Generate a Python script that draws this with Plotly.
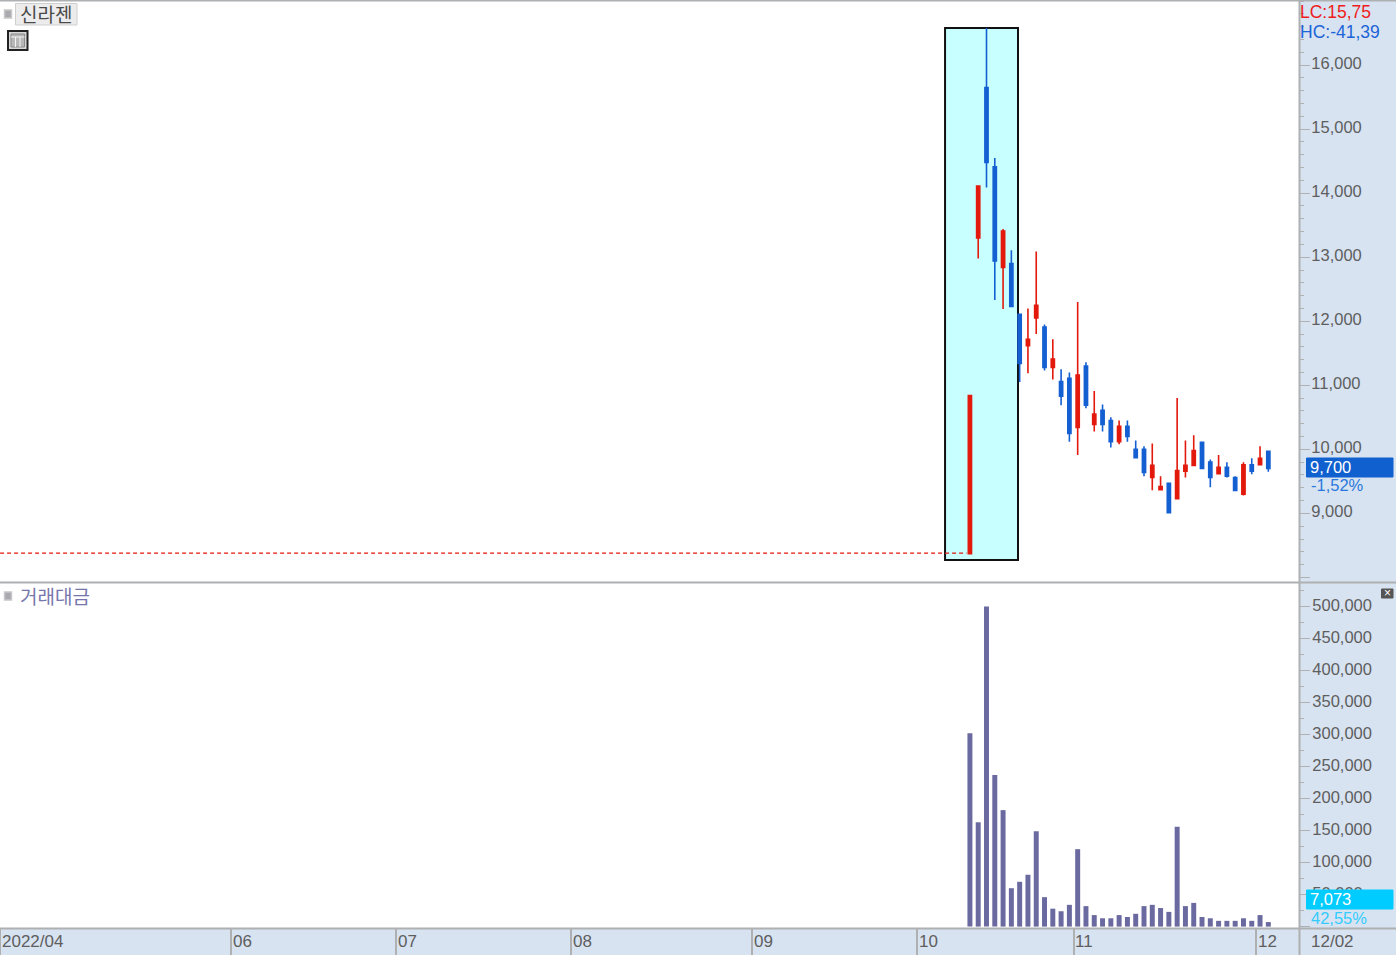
import plotly.graph_objects as go

W, H = 1396, 955
bar_index = list(range(117, 154))
opens = [8370,13300,15650,14410,12840,12900,12110,11620,12050,11910,11280,11060,11110,10340,11300,10390,10610,10450,10120,10360,10000,10000,9560,9370,9470,9230,9660,9750,10110,9800,9620,9720,9560,9300,9760,9760,9970]
highs = [10840,14110,16580,14550,13440,13110,12110,12200,13090,11950,11720,11250,11200,12300,11360,10910,10700,10500,10450,10450,10140,10050,10090,9580,9480,10800,10140,10220,10110,9840,9910,9800,9580,9800,9860,10050,9970]
lows = [8380,12980,14090,12330,12190,12230,11050,11190,11800,11230,11090,10690,10120,9910,10640,10280,10280,10030,10080,10120,9870,9580,9360,9360,9000,9230,9560,9750,9700,9410,9610,9560,9360,9280,9610,9750,9650]
closes = [10840,14110,14480,12940,13410,12230,11340,11720,12250,11280,11410,10830,10250,11160,10690,10550,10390,10120,10360,10200,9870,9640,9750,9420,9010,9670,9750,9980,9700,9560,9720,9580,9360,9760,9660,9860,9700]
turnover = [302000,163000,500000,237000,182000,60000,70000,81000,149000,46000,28000,24000,34000,121000,32000,18000,13000,13000,18000,15000,20000,32000,34000,29000,23000,156000,32000,37000,15000,13000,9000,9000,9000,13000,9000,18000,7073]
month_pos = [0, 27.9, 47.8, 68.9, 90.7, 110.6, 129.5, 151.5]
month_labels = ["2022/04", "06", "07", "08", "09", "10", "11", "12"]
price_ticks = [8000,9000,10000,11000,12000,13000,14000,15000,16000]
price_labels = ["","9,000","10,000","11,000","12,000","13,000","14,000","15,000","16,000"]
vol_ticks = [0,50000,100000,150000,200000,250000,300000,350000,400000,450000,500000]
vol_labels = ["","50,000","100,000","150,000","200,000","250,000","300,000","350,000","400,000","450,000","500,000"]

RED, BLUE, PURPLE = "#e2190c", "#1460d2", "#6a6aa0"
AXIS, TXT, STRIP = "#aeb0b2", "#5e5e5e", "#d7e3f1"
FONT = "Liberation Sans"

def px(x): return x / W
def py(y): return 1 - y / H

fig = go.Figure()
fig.add_trace(go.Candlestick(
    x=bar_index, open=opens, high=highs, low=lows, close=closes, xaxis="x", yaxis="y",
    whiskerwidth=0, hoverinfo="skip",
    increasing=dict(line=dict(color=RED, width=1.6), fillcolor=RED),
    decreasing=dict(line=dict(color=BLUE, width=1.6), fillcolor=BLUE)))
fig.add_trace(go.Bar(x=bar_index, y=turnover, xaxis="x2", yaxis="y2", width=0.6,
                     marker=dict(color=PURPLE, line=dict(width=0)), hoverinfo="skip"))

shapes = [
    dict(type="rect", xref="x", yref="y", x0=114.0, x1=122.8, y0=8273, y1=16578, layer="below",
         fillcolor="#c8ffff", line=dict(color="#111111", width=2)),
    dict(type="line", xref="x", yref="y", x0=0, x1=116.6, y0=min(lows), y1=min(lows),
         line=dict(color=RED, width=1.2, dash="4px,3px")),
]
for y, w in ((0.5, 2), (582.5, 2), (928.5, 2)):
    shapes.append(dict(type="line", xref="paper", yref="paper", x0=0, x1=1, y0=py(y), y1=py(y),
                       line=dict(color=AXIS, width=w)))
shapes.append(dict(type="line", xref="paper", yref="paper", x0=px(1299.5), x1=px(1299.5), y0=0, y1=1,
                   line=dict(color=AXIS, width=2)))

def rect(x0, y0, x1, y1, fill, line=None, lw=1):
    shapes.append(dict(type="rect", xref="paper", yref="paper", x0=px(x0), x1=px(x1), y0=py(y0), y1=py(y1),
                       fillcolor=fill, line=dict(color=line or fill, width=lw)))

rect(4.5, 10, 11.5, 18, "#a9a9b0", "#c8c8c8", 1.5)
rect(15.5, 3.5, 77, 25, "#ececec", "#cfcfcf")
rect(8, 31, 27.5, 50, "#d8d8d8", "#222222", 2)
rect(11, 34, 24.5, 47, "#b8b8b8", "#8a8a8a")
for gx in (15.5, 20):
    shapes.append(dict(type="line", xref="paper", yref="paper", x0=px(gx), x1=px(gx), y0=py(37), y1=py(47),
                       line=dict(color="#f2f2f2", width=1)))
shapes.append(dict(type="line", xref="paper", yref="paper", x0=px(11), x1=px(24.5), y0=py(37), y1=py(37),
                   line=dict(color="#f2f2f2", width=1)))
rect(4.5, 592, 11.5, 600, "#a9a9b0", "#c8c8c8", 1.5)
rect(1381.5, 589, 1393, 598, "#555555")
rect(1306.5, 458, 1393, 477, "#1060cf")
rect(1306.5, 890, 1393, 909, "#00ccff")

def note(x, y, text, color=TXT, size=17, font=FONT, xref="paper"):
    return dict(x=x, y=py(y), xref=xref, yref="paper", text=text, showarrow=False, xanchor="left", yanchor="middle",
                font=dict(family=font, size=size, color=color), borderpad=0, borderwidth=0)

KR = "Noto Sans CJK KR"
ann = [
    note(px(1300), 12, "LC:15,75", "#ee1c1c", 17.5),
    note(px(1300), 31.5, "HC:-41,39", "#1c64d8", 17.5),
    note(px(1310), 466.5, "9,700", "#ffffff", 16.5),
    note(px(1311), 485.5, "-1,52%", "#2a78dc", 16.5),
    note(px(1310), 898.5, "7,073", "#ffffff", 16.5),
    note(px(1311), 918, "42,55%", "#33ccff", 16.5),
    note(px(1311), 941.5, "12/02"),
    note(px(20), 14, "신라젠", "#4a4a4a", 19, KR),
    note(px(20), 595, "거래대금", "#7676ac", 19, KR),
    note(px(1383.5), 593, "×", "#ffffff", 12),
]
for pos, lab in zip(month_pos, month_labels):
    ann.append(note(pos + 0.2, 941.5, lab, xref="x2"))

x_range = [-0.01, 156.7]
fig.update_layout(
    width=W, height=H, margin=dict(l=0, r=0, t=0, b=0), autosize=False,
    paper_bgcolor=STRIP, plot_bgcolor="#ffffff", showlegend=False, boxgap=0.45,
    font=dict(family=FONT, size=16.5, color=TXT), shapes=shapes, annotations=ann,
    xaxis=dict(domain=[0, 1299 / W], range=x_range, anchor="y", rangeslider=dict(visible=False),
               showgrid=False, zeroline=False, showticklabels=False, ticks="", tickvals=[]),
    xaxis2=dict(domain=[0, 1299 / W], range=x_range, anchor="y2", showgrid=False, zeroline=False,
                showticklabels=False, ticks="outside", ticklen=26, tickwidth=2, tickcolor=AXIS,
                tickvals=month_pos),
    yaxis=dict(domain=[py(582), py(1)], range=[7929, 17000], side="right", anchor="x", showgrid=False,
               zeroline=False, tickvals=price_ticks, ticktext=price_labels, ticks="outside", ticklen=10,
               tickcolor=AXIS, tickwidth=1, ticklabelshift=-2, ticklabelstandoff=-2, showline=False,
               minor=dict(dtick=200, tick0=0, ticks="outside", ticklen=4, tickcolor=AXIS, showgrid=False)),
    yaxis2=dict(domain=[py(928), py(583)], range=[-2190, 536900], side="right", anchor="x2", showgrid=False,
                zeroline=False, tickvals=vol_ticks, ticktext=vol_labels, ticks="outside", ticklen=10,
                tickcolor=AXIS, tickwidth=1, ticklabelshift=-1, ticklabelstandoff=-1, showline=False,
                minor=dict(dtick=25000, tick0=0, ticks="outside", ticklen=4, tickcolor=AXIS, showgrid=False)),
)
fig.write_html("out.html", config=dict(displayModeBar=False),
               post_script="document.body.style.margin='0';document.body.style.overflow='hidden';")
